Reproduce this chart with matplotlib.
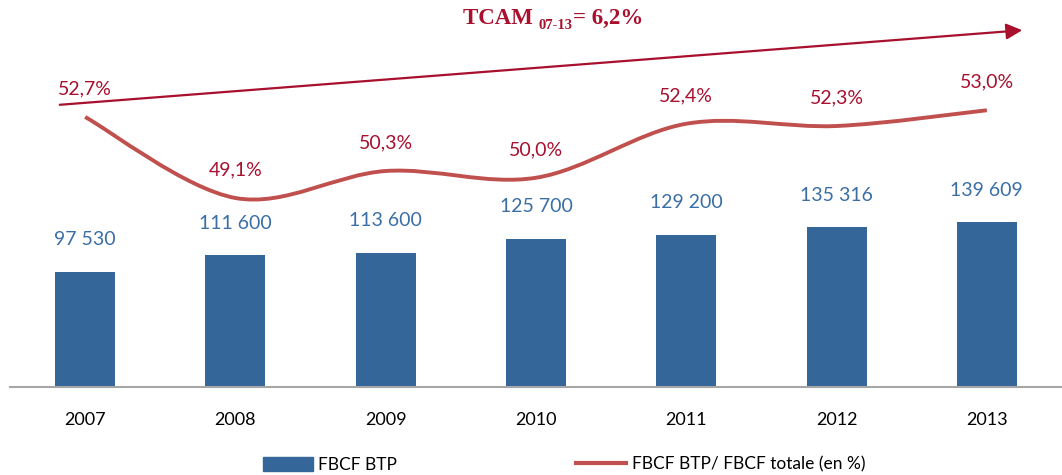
import matplotlib
matplotlib.use("Agg")
import matplotlib.pyplot as plt
from matplotlib.path import Path
from matplotlib.patches import PathPatch, Patch, FancyArrowPatch
from matplotlib.lines import Line2D

plt.rcParams['font.family'] = ['Lato', 'DejaVu Sans']

years = ['2007', '2008', '2009', '2010', '2011', '2012', '2013']
fbcf_btp = [97530, 111600, 113600, 125700, 129200, 135316, 139609]
bar_labels = ['97 530', '111 600', '113 600', '125 700', '129 200', '135 316', '139 609']
share = [52.7, 49.1, 50.3, 50.0, 52.4, 52.3, 53.0]
share_labels = ['52,7%', '49,1%', '50,3%', '50,0%', '52,4%', '52,3%', '53,0%']

bar_color = '#346699'
line_color = '#C0504D'
dark_red = '#A8102E'
label_blue = '#3A6EA5'

fig = plt.figure(figsize=(10.62, 4.75), dpi=100)
ax = fig.add_axes([10 / 1062, 1 - 387 / 475, 1 - 10 / 1062, 387 / 475])
x = list(range(len(years)))

ax.bar(x, fbcf_btp, width=0.4, color=bar_color, zorder=2)
ax.set_xlim(-0.5, 6.5)
ax.set_ylim(0, 328200)
for xi, v, lab in zip(x, fbcf_btp, bar_labels):
    ax.annotate(lab, (xi, v), xytext=(0, 17), textcoords='offset points',
                ha='center', va='bottom', fontsize=14, color=label_blue)

for s in ['top', 'right', 'left']:
    ax.spines[s].set_visible(False)
ax.spines['bottom'].set_color('#A6A6A6')
ax.spines['bottom'].set_linewidth(1.5)
ax.set_yticks([])
ax.set_xticks(x)
ax.set_xticklabels(years, fontsize=13)
ax.tick_params(axis='x', length=0, pad=18)

# ratio line on a second axis, smoothed like the spreadsheet curve
ax2 = ax.twinx()
ax2.set_ylim(40.7, 57.9)
ax2.axis('off')
pts = list(zip(x, share))
verts = [pts[0]]
codes = [Path.MOVETO]
n = len(pts)
for i in range(n - 1):
    p0 = pts[max(i - 1, 0)]
    p1 = pts[i]
    p2 = pts[i + 1]
    p3 = pts[min(i + 2, n - 1)]
    c1 = (p1[0] + (p2[0] - p0[0]) / 6, p1[1] + (p2[1] - p0[1]) / 6)
    c2 = (p2[0] - (p3[0] - p1[0]) / 6, p2[1] - (p3[1] - p1[1]) / 6)
    verts += [c1, c2, p2]
    codes += [Path.CURVE4] * 3
ax2.add_patch(PathPatch(Path(verts, codes), fill=False, edgecolor=line_color,
                        lw=2.8, capstyle='butt', zorder=3))
for xi, v, lab in zip(x, share, share_labels):
    ax2.annotate(lab, (xi, v), xytext=(0, 14), textcoords='offset points',
                 ha='center', va='bottom', fontsize=14, color=dark_red)

# growth arrow and TCAM title
arrow = FancyArrowPatch((57 / 1062, 1 - 105 / 475), (1025 / 1062, 1 - 30 / 475),
                        transform=fig.transFigure, arrowstyle='-|>',
                        mutation_scale=24, color=dark_red, lw=1.6)
fig.patches.append(arrow)

serif = ['Liberation Serif', 'DejaVu Serif']
t1 = fig.text(463 / 1062, 1 - 24 / 475, 'TCAM ', fontsize=16.5, fontweight='bold',
              family=serif, color=dark_red, va='baseline', ha='left')
fig.canvas.draw()
r = fig.canvas.get_renderer()
bb = t1.get_window_extent(r)
t2 = fig.text(bb.x1 / 1062, (1 - 24 / 475) - 5 / 475, '07-13', fontsize=10.5,
              fontweight='bold', family=serif, color=dark_red, va='baseline', ha='left')
bb2 = t2.get_window_extent(r)
fig.text(bb2.x1 / 1062, 1 - 24 / 475, '= 6,2%', fontsize=16.5, fontweight='bold',
         family=serif, color=dark_red, va='baseline', ha='left')

handles = [Patch(color=bar_color), Line2D([0], [0], color=line_color, lw=3)]
fig.legend(handles, ['FBCF BTP', 'FBCF BTP/ FBCF totale (en %)'], loc='center',
           bbox_to_anchor=(0.531, 0.022), ncol=2, frameon=False, fontsize=12.5,
           handlelength=2.9, handleheight=0.85, columnspacing=10.3, handletextpad=0.3)

fig.savefig('out.png', dpi=100)
